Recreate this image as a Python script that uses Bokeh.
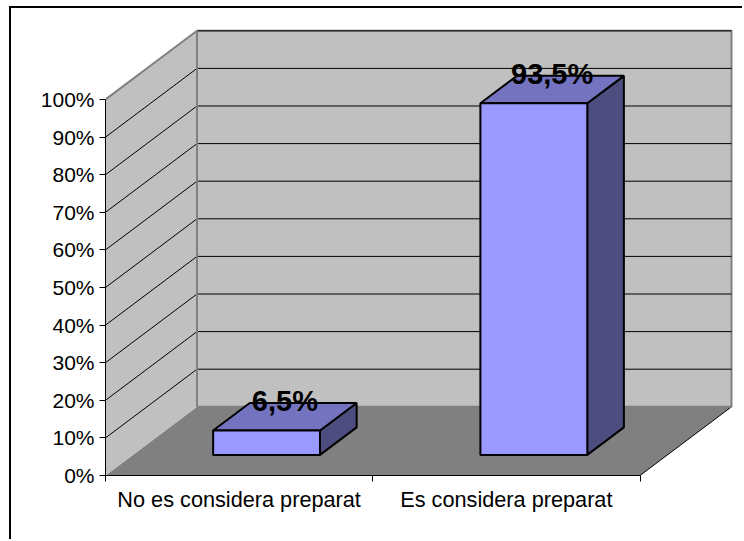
from bokeh.plotting import figure
from bokeh.embed import file_html
from bokeh.resources import INLINE
from bokeh.models import FixedTicker
from bokeh.core.properties import value

categories = ["No es considera preparat", "Es considera preparat"]
values = [6.5, 93.5]
value_labels = ["6,5%", "93,5%"]
y_ticks = [0, 10, 20, 30, 40, 50, 60, 70, 80, 90, 100]
y_tick_labels = ["0%", "10%", "20%", "30%", "40%", "50%", "60%", "70%", "80%", "90%", "100%"]
x_ticks = [0, 1, 2]

FONT = "Liberation Sans"
DEPTH_X = 0.3424
DEPTH_Y = 18.27
BAR_W = 0.40
D0, D1 = 0.30, 0.70
WALL = "#C0C0C0"
EDGE = "#808080"
FRONT, TOP, SIDE = "#9999FF", "#7373BF", "#4D4D80"


def pr(x, v, d):
    return x + d * DEPTH_X, v + d * DEPTH_Y


def poly(points):
    pts = [pr(*q) for q in points]
    return [a for a, _ in pts], [b for _, b in pts]


p = figure(width=733, height=533, output_backend="svg", toolbar_location=None,
           x_range=(0, 2.391), y_range=(0, 124.2),
           min_border_left=94, min_border_right=0, min_border_top=0, min_border_bottom=66,
           outline_line_color=None, background_fill_color="white", border_fill_color="white")
p.grid.visible = False
# chart frame: only its top and left sides are in view
p.styles = {"margin-left": "9px", "margin-top": "6px",
            "border-left": "2px solid black", "border-top": "2px solid black"}

# floor
xs, ys = poly([(0, 0, 0), (2, 0, 0), (2, 0, 1), (0, 0, 1)])
p.patch(xs, ys, fill_color=EDGE, line_color=None)
xs, ys = poly([(2, 0, 0), (2, 0, 1)])
p.line(xs, ys, line_color="black", line_width=1)

# back wall
xs, ys = poly([(0, 0, 1), (2, 0, 1), (2, 100, 1), (0, 100, 1)])
p.patch(xs, ys, fill_color=WALL, line_color=EDGE, line_width=2)
xs, ys = poly([(2, 0, 1), (0, 0, 1)])
p.line(xs, ys, line_color=EDGE, line_width=1)
for t in y_ticks[1:]:
    xs, ys = poly([(0, t, 1), (2, t, 1)])
    p.line(xs, ys, line_color="black", line_width=1)

# side wall
xs, ys = poly([(0, 0, 0), (0, 0, 1), (0, 100, 1), (0, 100, 0)])
p.patch(xs, ys, fill_color=WALL, line_color=None)
for t in y_ticks[1:-1]:
    xs, ys = poly([(0, t, 0), (0, t, 1)])
    p.line(xs, ys, line_color="black", line_width=1)
xs, ys = poly([(0, 100, 0), (0, 100, 1), (0, 0, 1)])
p.line(xs, ys, line_color=EDGE, line_width=2)

# bars
for i, v in enumerate(values):
    c = i + 0.5
    l, r = c - BAR_W / 2, c + BAR_W / 2
    xs, ys = poly([(r, 0, D0), (r, 0, D1), (r, v, D1), (r, v, D0)])
    p.patch(xs, ys, fill_color=SIDE, line_color="black", line_width=2)
    xs, ys = poly([(l, v, D0), (r, v, D0), (r, v, D1), (l, v, D1)])
    p.patch(xs, ys, fill_color=TOP, line_color="black", line_width=2)
    xs, ys = poly([(l, 0, D0), (r, 0, D0), (r, v, D0), (l, v, D0)])
    p.patch(xs, ys, fill_color=FRONT, line_color="black", line_width=2)

# value labels
for i, v in enumerate(values):
    x, _ = pr(i + 0.5, v, 0.5)
    _, y = pr(i + 0.5, v, D1)
    p.text([x], [y], text=[value_labels[i]], text_font=value(FONT), text_font_style="bold",
           text_font_size="29px", text_color="black", text_align="center", text_baseline="middle",
           y_offset=-2)

# axes
ya = p.yaxis[0]
ya.ticker = FixedTicker(ticks=y_ticks)
ya.major_label_overrides = dict(zip(y_ticks, y_tick_labels))
ya.bounds = (0, 100)
ya.axis_line_color = "black"
ya.major_tick_in = 0
ya.major_tick_out = 6
ya.minor_tick_line_color = None
ya.major_label_text_font = FONT
ya.major_label_text_font_size = "21px"
ya.major_label_text_color = "black"
ya.major_label_standoff = 5

xa = p.xaxis[0]
xa.ticker = FixedTicker(ticks=[0.5, 1.5], minor_ticks=x_ticks)
xa.major_label_overrides = {i + 0.5: c for i, c in enumerate(categories)}
xa.bounds = (0, 2)
xa.axis_line_color = "black"
xa.major_tick_line_color = None
xa.major_tick_in = 0
xa.major_tick_out = 0
xa.minor_tick_in = 0
xa.minor_tick_out = 6
xa.minor_tick_line_color = "black"
xa.major_label_text_font = FONT
xa.major_label_text_font_size = "21.7px"
xa.major_label_text_color = "black"
xa.major_label_standoff = 5

open("out.html", "w").write(file_html(p, INLINE))
